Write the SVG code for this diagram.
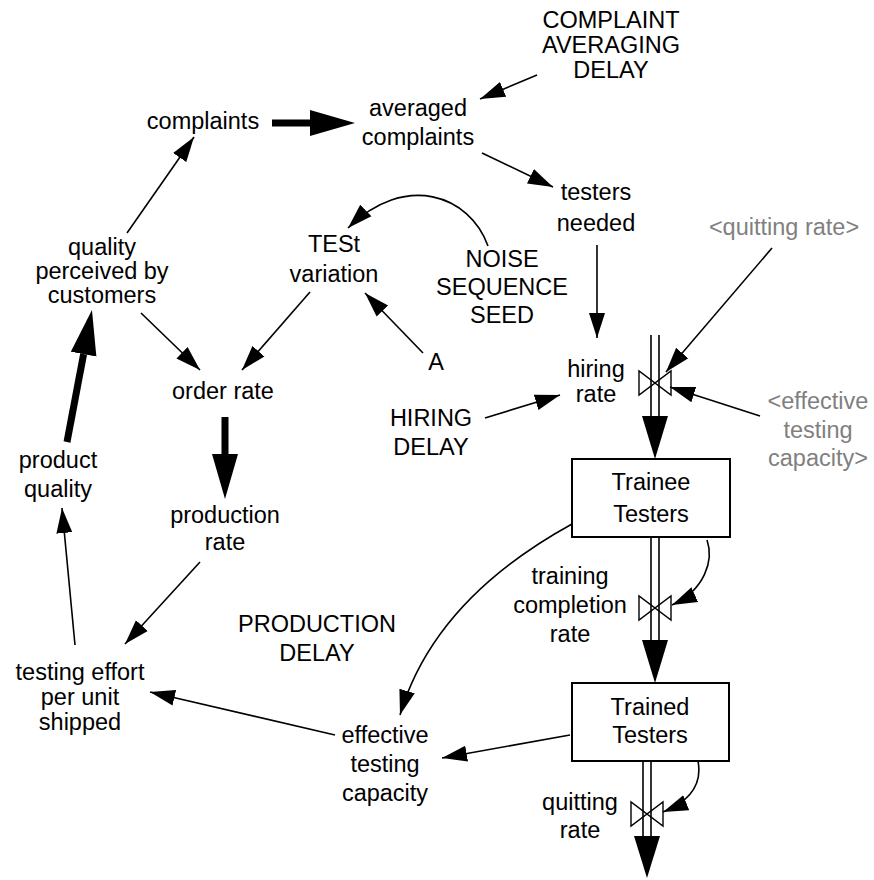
<svg xmlns="http://www.w3.org/2000/svg" width="874" height="880" viewBox="0 0 874 880">
<defs>
<style>
text{font-family:"Liberation Sans",Arial,sans-serif;font-size:23.5px;fill:#000;text-anchor:middle}
.g{fill:#808080}
.c{fill:none;stroke:#000;stroke-width:1.6}
.k{fill:none;stroke:#000;stroke-width:7}
.p{stroke:#000;stroke-width:1.6}
.v{fill:none;stroke:#000;stroke-width:1.4}
.box{fill:#fff;stroke:#000;stroke-width:2}
</style>
<marker id="a" markerWidth="26" markerHeight="18" refX="25" refY="9" orient="auto" markerUnits="userSpaceOnUse"><path d="M0,1 L25,9 L0,17 z" fill="#000"/></marker>
<marker id="t" markerWidth="46" markerHeight="28" refX="0" refY="14" orient="auto" markerUnits="userSpaceOnUse"><path d="M0,1 L45,14 L0,27 z" fill="#000"/></marker>
</defs>
<rect width="874" height="880" fill="#fff"/>
<g id="connectors">
<path class="c" marker-end="url(#a)" d="M537,75 L480,99"/>
<path class="c" marker-end="url(#a)" d="M482,153 L553,187"/>
<path class="c" marker-end="url(#a)" d="M127,233 L194,137"/>
<path class="c" marker-end="url(#a)" d="M597,245 L597,338"/>
<path class="c" marker-end="url(#a)" d="M772,248 L666,372"/>
<path class="c" marker-end="url(#a)" d="M760,416 L670,387"/>
<path class="c" marker-end="url(#a)" d="M488,246 C470,195 405,172 348,228"/>
<path class="c" marker-end="url(#a)" d="M423,353 L365,293"/>
<path class="c" marker-end="url(#a)" d="M310,292 L242,370"/>
<path class="c" marker-end="url(#a)" d="M141,313 L200,370"/>
<path class="c" marker-end="url(#a)" d="M485,418 L560,395"/>
<path class="c" marker-end="url(#a)" d="M200,562 L125,644"/>
<path class="c" marker-end="url(#a)" d="M75,645 L62,508"/>
<path class="c" marker-end="url(#a)" d="M572,524 Q434,600 400,715"/>
<path class="c" marker-end="url(#a)" d="M570,735 L442,758"/>
<path class="c" marker-end="url(#a)" d="M335,735 L150,692"/>
<path class="c" marker-end="url(#a)" d="M707,540 C714,560 705,590 672,605"/>
<path class="c" marker-end="url(#a)" d="M698,761 C702,782 693,800 663,812"/>
<path class="k" marker-end="url(#t)" d="M272,123 L310,123"/>
<path class="k" marker-end="url(#t)" d="M225,417 L225,454"/>
<path class="k" marker-end="url(#t)" d="M67,442 L83.6,354.2"/>
</g>
<g id="flow-hiring">
<line class="p" x1="651" y1="335" x2="651" y2="417"/>
<line class="p" x1="659" y1="335" x2="659" y2="417"/>
<polygon points="642,416 668,416 655,459" fill="#000"/>
<path class="v" d="M639,371 L639,395 L671,371 L671,395 Z"/>
</g>
<g id="flow-training">
<line class="p" x1="651" y1="537" x2="651" y2="641"/>
<line class="p" x1="659" y1="537" x2="659" y2="641"/>
<polygon points="642,640 668,640 655,683" fill="#000"/>
<path class="v" d="M639,596 L639,620 L671,596 L671,620 Z"/>
</g>
<g id="flow-quitting">
<line class="p" x1="643" y1="761" x2="643" y2="837"/>
<line class="p" x1="651" y1="761" x2="651" y2="837"/>
<polygon points="634,836 660,836 647,878" fill="#000"/>
<path class="v" d="M631,802 L631,826 L663,802 L663,826 Z"/>
</g>
<g id="complaint-averaging-delay"><text x="611" y="28">COMPLAINT</text><text x="611" y="53">AVERAGING</text><text x="611" y="78">DELAY</text></g>
<g id="complaints"><text x="203" y="129">complaints</text></g>
<g id="averaged-complaints"><text x="418" y="116">averaged</text><text x="418" y="145">complaints</text></g>
<g id="testers-needed"><text x="596" y="200">testers</text><text x="596" y="231">needed</text></g>
<g id="quality-perceived"><text x="102" y="255">quality</text><text x="102" y="279">perceived by</text><text x="102" y="303">customers</text></g>
<g id="test-variation"><text x="334" y="252">TESt</text><text x="334" y="282">variation</text></g>
<g id="noise-sequence-seed"><text x="502" y="267">NOISE</text><text x="502" y="295">SEQUENCE</text><text x="502" y="323">SEED</text></g>
<g id="quitting-rate-shadow"><text class="g" x="784" y="235">&lt;quitting rate&gt;</text></g>
<g id="a-node"><text x="436" y="370">A</text></g>
<g id="order-rate"><text x="223" y="399">order rate</text></g>
<g id="hiring-rate"><text x="596" y="377">hiring</text><text x="596" y="402">rate</text></g>
<g id="hiring-delay"><text x="431" y="426">HIRING</text><text x="431" y="455">DELAY</text></g>
<g id="effective-testing-capacity-shadow"><text class="g" x="818" y="409">&lt;effective</text><text class="g" x="818" y="438">testing</text><text class="g" x="818" y="466">capacity&gt;</text></g>
<g id="product-quality"><text x="58" y="468">product</text><text x="58" y="497">quality</text></g>
<g id="trainee-testers"><rect class="box" x="572" y="459" width="158" height="78"/><text x="651" y="490">Trainee</text><text x="651" y="522">Testers</text></g>
<g id="production-rate"><text x="225" y="523">production</text><text x="225" y="550">rate</text></g>
<g id="training-completion-rate"><text x="570" y="584">training</text><text x="570" y="613">completion</text><text x="570" y="642">rate</text></g>
<g id="production-delay"><text x="317" y="632">PRODUCTION</text><text x="317" y="661">DELAY</text></g>
<g id="testing-effort"><text x="80" y="680">testing effort</text><text x="80" y="705">per unit</text><text x="80" y="730">shipped</text></g>
<g id="trained-testers"><rect class="box" x="572" y="683" width="157" height="78"/><text x="650" y="715">Trained</text><text x="650" y="743">Testers</text></g>
<g id="effective-testing-capacity"><text x="385" y="743">effective</text><text x="385" y="772">testing</text><text x="385" y="801">capacity</text></g>
<g id="quitting-rate"><text x="580" y="810">quitting</text><text x="580" y="838">rate</text></g>
</svg>
